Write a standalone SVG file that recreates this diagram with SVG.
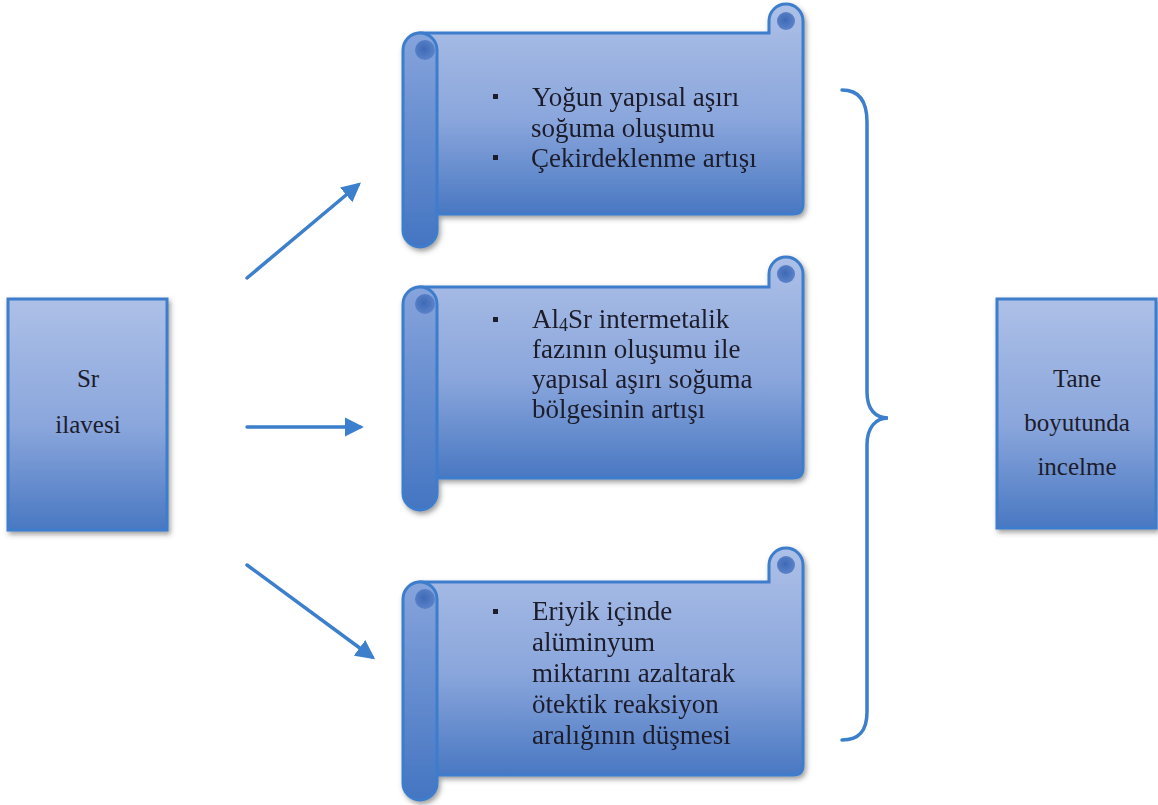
<svg xmlns="http://www.w3.org/2000/svg" width="1158" height="805" viewBox="0 0 1158 805">
<defs>
  <linearGradient id="gBody" x1="0" y1="0" x2="0" y2="1">
    <stop offset="0" stop-color="#adc0e7"/>
    <stop offset="0.55" stop-color="#8aa6dc"/>
    <stop offset="1" stop-color="#4978c2"/>
  </linearGradient>
  <linearGradient id="gRoll" x1="0" y1="0" x2="0" y2="1">
    <stop offset="0" stop-color="#86a4dc"/>
    <stop offset="1" stop-color="#4475c2"/>
  </linearGradient>
  <radialGradient id="gCurl" cx="0.45" cy="0.45" r="0.55">
    <stop offset="0" stop-color="#3f69b6"/>
    <stop offset="1" stop-color="#5a82c9"/>
  </radialGradient>
  <filter id="sh" x="-10%" y="-10%" width="130%" height="130%">
    <feDropShadow dx="2" dy="3" stdDeviation="2.5" flood-color="#404040" flood-opacity="0.5"/>
  </filter>
  <marker id="ah" viewBox="0 0 10 10" refX="8" refY="5" markerWidth="5.5" markerHeight="5.5" orient="auto" markerUnits="strokeWidth">
    <path d="M0,0 L10,5 L0,10 Z" fill="#3b7fcd"/>
  </marker>
  <style>
    .box{fill:url(#gBody);stroke:#3d7dcc;stroke-width:3;filter:url(#sh)}
    .body{fill:url(#gBody);stroke:#3d7dcc;stroke-width:3}
    .roll{fill:url(#gRoll);stroke:#3d7dcc;stroke-width:3}
    .curl{fill:url(#gCurl);stroke:none}
    .t{font-family:"Liberation Serif","Times New Roman",serif;fill:#1c1c2a}
    .bt{font-size:25px;text-anchor:middle}
    .st{font-size:27px}
    .bul{fill:#1c1c2a}
    .con{stroke:#3b7fcd;stroke-width:3.5;fill:none;stroke-linecap:round}
  </style>
</defs>
<rect width="1158" height="805" fill="#ffffff"/>

<g id="connectors">
  <line class="con" x1="247" y1="278" x2="358" y2="185" marker-end="url(#ah)"/>
  <line class="con" x1="247" y1="427" x2="360" y2="427" marker-end="url(#ah)"/>
  <line class="con" x1="247" y1="565" x2="372" y2="657" marker-end="url(#ah)"/>
  <path class="con" d="M842,90 C858,90 867,100 867,122 L867,392 C867,410 876,418 888,418 C876,418 867,427 867,445 L867,712 C867,732 858,740 842,740"/>
</g>

<g id="node-sr">
  <rect class="box" x="8" y="299" width="159" height="231"/>
  <text class="t bt" x="88" y="387">Sr</text>
  <text class="t bt" x="88" y="433">ilavesi</text>
</g>

<g id="node-tane">
  <rect class="box" x="997" y="299" width="159" height="229"/>
  <text class="t bt" x="1077" y="387">Tane</text>
  <text class="t bt" x="1077" y="431">boyutunda</text>
  <text class="t bt" x="1077" y="475">incelme</text>
</g>

<g id="scroll-1" filter="url(#sh)">
  <path class="body" d="M420,33 L769,33 L769,21 A17,17 0 0 1 803,21 L803,204 Q803,214 793,214 L420,214 Z"/>
  <circle class="curl" cx="786" cy="21" r="9"/>
  <path class="roll" d="M403,50 A17,17 0 0 1 437,50 L437,230 A17,17 0 0 1 403,230 Z"/>
  <circle class="curl" cx="425" cy="50" r="10"/>
  <rect class="bul" x="493" y="94" width="5" height="5"/>
  <text class="t st" x="532" y="106">Yoğun yapısal aşırı</text>
  <text class="t st" x="531" y="137">soğuma oluşumu</text>
  <rect class="bul" x="493" y="155" width="5" height="5"/>
  <text class="t st" x="531" y="167">Çekirdeklenme artışı</text>
</g>

<g id="scroll-2" filter="url(#sh)">
  <path class="body" d="M420,287 L769,287 L769,274 A17,17 0 0 1 803,274 L803,468 Q803,478 793,478 L420,478 Z"/>
  <circle class="curl" cx="786" cy="274" r="9"/>
  <path class="roll" d="M403,304 A17,17 0 0 1 437,304 L437,493 A17,17 0 0 1 403,493 Z"/>
  <circle class="curl" cx="425" cy="304" r="10"/>
  <rect class="bul" x="493" y="317" width="5" height="5"/>
  <text class="t st" x="532" y="328">Al<tspan font-size="18" dy="3">4</tspan><tspan dy="-3">Sr intermetalik</tspan></text>
  <text class="t st" x="532" y="358">fazının oluşumu ile</text>
  <text class="t st" x="532" y="388">yapısal aşırı soğuma</text>
  <text class="t st" x="532" y="418">bölgesinin artışı</text>
</g>

<g id="scroll-3" filter="url(#sh)">
  <path class="body" d="M420,582 L769,582 L769,565 A17,17 0 0 1 803,565 L803,765 Q803,775 793,775 L420,775 Z"/>
  <circle class="curl" cx="786" cy="565" r="9"/>
  <path class="roll" d="M403,599 A17,17 0 0 1 437,599 L437,783 A17,17 0 0 1 403,783 Z"/>
  <circle class="curl" cx="425" cy="599" r="10"/>
  <rect class="bul" x="493" y="609" width="5" height="5"/>
  <text class="t st" x="532" y="620">Eriyik içinde</text>
  <text class="t st" x="532" y="651">alüminyum</text>
  <text class="t st" x="532" y="682">miktarını azaltarak</text>
  <text class="t st" x="532" y="713">ötektik reaksiyon</text>
  <text class="t st" x="532" y="744">aralığının düşmesi</text>
</g>
</svg>
